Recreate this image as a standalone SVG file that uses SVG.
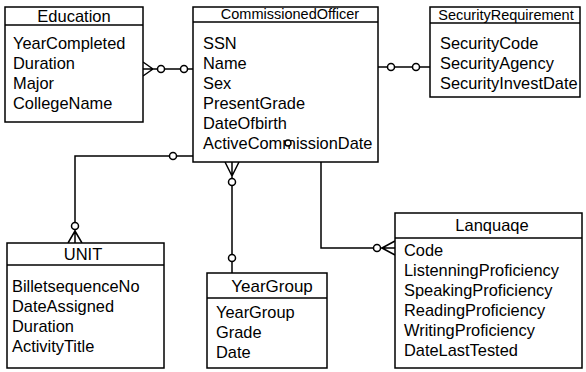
<svg xmlns="http://www.w3.org/2000/svg" width="586" height="372" viewBox="0 0 586 372">
<style>
.box{fill:#fff;stroke:#000;stroke-width:1.5}
.ln{fill:none;stroke:#000;stroke-width:1.5}
.c{fill:#fff;stroke:#000;stroke-width:1.5}
text{font-family:"Liberation Sans",Arial,sans-serif;fill:#000}
.a{font-size:16.4px}
.t{font-size:16.5px;text-anchor:middle}
.ts{font-size:14.5px;text-anchor:middle}
</style>
<rect width="586" height="372" fill="#fff"/>
<g id="connectors">
<path class="ln" d="M143,69 H193 M153,69 L143,62 M153,69 L143,76"/>
<circle class="c" cx="161" cy="69" r="3.5"/>
<circle class="c" cx="184" cy="69" r="3.5"/>
<path class="ln" d="M378,67 H430"/>
<circle class="c" cx="391" cy="67" r="3.5"/>
<circle class="c" cx="416" cy="67" r="3.5"/>
<path class="ln" d="M193,156 H75 V243 M75,231 L68,243 M75,231 L82,243"/>
<circle class="c" cx="173" cy="156" r="3.5"/>
<circle class="c" cx="75" cy="226" r="3.5"/>
<path class="ln" d="M232,162 V273 M232,176 L225,162 M232,176 L239,162"/>
<circle class="c" cx="232" cy="182" r="3.5"/>
<circle class="c" cx="232" cy="258" r="3.5"/>
<path class="ln" d="M321,162 V248 H395 M382,248 L395,241 M382,248 L395,255"/>
<circle class="c" cx="377" cy="248" r="3.5"/>
</g>
<g id="education">
<rect class="box" x="5" y="7" width="138" height="115"/>
<path class="ln" d="M5,25 H143"/>
<text class="t" x="74" y="22">Education</text>
<text class="a" x="13" y="49">YearCompleted</text>
<text class="a" x="13" y="69">Duration</text>
<text class="a" x="13" y="89">Major</text>
<text class="a" x="13" y="109">CollegeName</text>
</g>
<g id="commissionedofficer">
<rect class="box" x="193" y="7" width="185" height="155"/>
<path class="ln" d="M193,22 H378"/>
<text class="ts" x="290" y="19">CommissionedOfficer</text>
<text class="a" x="203" y="49">SSN</text>
<text class="a" x="203" y="69">Name</text>
<text class="a" x="203" y="89">Sex</text>
<text class="a" x="203" y="109">PresentGrade</text>
<text class="a" x="203" y="129">DateOfbirth</text>
<text class="a" x="203" y="149">ActiveCommissionDate</text>
<circle class="c" cx="288" cy="143" r="3" stroke-width="1.2"/>
</g>
<g id="securityrequirement">
<rect class="box" x="430" y="7" width="150" height="90"/>
<path class="ln" d="M430,23 H580"/>
<text class="ts" x="506" y="20">SecurityRequirement</text>
<text class="a" x="440" y="49">SecurityCode</text>
<text class="a" x="440" y="69">SecurityAgency</text>
<text class="a" x="440" y="89">SecurityInvestDate</text>
</g>
<g id="unit">
<rect class="box" x="7" y="243" width="157" height="125"/>
<path class="ln" d="M7,265 H164"/>
<text class="t" x="83" y="260">UNIT</text>
<text class="a" x="12" y="292">BilletsequenceNo</text>
<text class="a" x="12" y="312">DateAssigned</text>
<text class="a" x="12" y="332">Duration</text>
<text class="a" x="12" y="352">ActivityTitle</text>
</g>
<g id="yeargroup">
<rect class="box" x="207" y="273" width="120" height="95"/>
<path class="ln" d="M207,298 H327"/>
<text class="t" x="272" y="292" style="font-size:17px">YearGroup</text>
<text class="a" x="216" y="318">YearGroup</text>
<text class="a" x="216" y="338">Grade</text>
<text class="a" x="216" y="358">Date</text>
</g>
<g id="language">
<rect class="box" x="395" y="213" width="187" height="155"/>
<path class="ln" d="M395,238 H582"/>
<text class="t" x="492" y="231">Lanquaqe</text>
<text class="a" x="404" y="256">Code</text>
<text class="a" x="404" y="276">ListenningProficiency</text>
<text class="a" x="404" y="296">SpeakingProficiency</text>
<text class="a" x="404" y="316">ReadingProficiency</text>
<text class="a" x="404" y="336">WritingProficiency</text>
<text class="a" x="404" y="356">DateLastTested</text>
</g>
</svg>
